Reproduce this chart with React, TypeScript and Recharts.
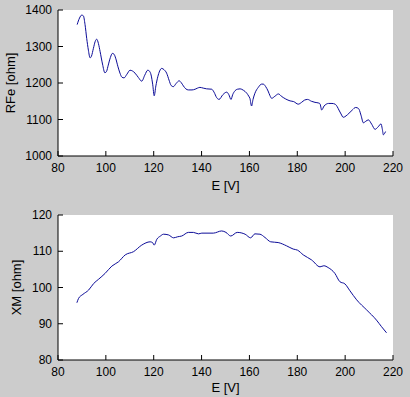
import React from 'react';
import { LineChart, Line, XAxis, YAxis, CartesianGrid } from 'recharts';

// E [V] / RFe [ohm] readings, top panel
const eTop = [
  88.0, 89.0, 89.9, 90.6, 91.3, 92.0, 92.7, 93.4, 94.0, 94.8, 95.5, 96.2, 96.9, 97.6, 98.6, 99.6,
  100.3, 101.0, 101.9, 102.7, 103.4, 104.1, 105.0, 105.9, 106.7, 107.6, 108.8, 110.1, 111.1, 112.2,
  113.6, 115.0, 116.3, 117.5, 118.3, 118.9, 119.6, 120.2, 120.9, 121.7, 122.5, 123.3, 124.4, 125.4,
  126.4, 127.3, 128.2, 129.4, 130.6, 131.5, 132.4, 133.4, 134.5, 136.0, 137.3, 138.3, 139.3, 140.7,
  142.1, 144.2, 145.2, 146.3, 147.3, 148.9, 150.5, 151.4, 152.3, 153.0, 154.0, 155.0, 156.1, 157.5,
  158.9, 159.7, 160.2, 160.9, 161.5, 162.3, 163.7, 165.1, 165.8, 166.8, 167.8, 168.6, 169.3, 170.7,
  172.1, 173.5, 175.2, 177.0, 178.5, 180.4, 181.8, 183.0, 184.3, 185.9, 187.4, 189.0, 189.5, 190.2,
  191.2, 192.1, 193.0, 194.5, 195.8, 196.7, 197.4, 198.3, 199.2, 200.4, 201.6, 203.0, 204.4, 205.1,
  205.8, 206.7, 207.6, 208.6, 209.7, 211.1, 212.5, 213.8, 215.0, 215.5, 216.0, 216.5, 216.9,
];
const rfe = [
  1360, 1378, 1386, 1384, 1360, 1322, 1290, 1269, 1274, 1295, 1313, 1320, 1308, 1286, 1252, 1228,
  1232, 1249, 1270, 1281, 1279, 1268, 1246, 1227, 1216, 1214, 1224, 1235, 1233, 1227,
  1215, 1205, 1222, 1235, 1232, 1222, 1195, 1165, 1192, 1217, 1233, 1240, 1236, 1227,
  1208, 1193, 1190, 1199, 1206, 1201, 1192, 1184, 1181, 1181, 1183, 1186, 1188, 1186,
  1184, 1183, 1175, 1160, 1155, 1168, 1175, 1168, 1155, 1168, 1179, 1183, 1184, 1180,
  1172, 1164, 1158, 1137, 1155, 1172, 1188, 1197, 1197, 1190, 1178, 1165, 1158, 1164,
  1170, 1163, 1156, 1151, 1149, 1142, 1147, 1153, 1155, 1150, 1147, 1145, 1143, 1126,
  1137, 1142, 1144, 1144, 1142, 1135, 1126, 1115, 1106, 1110, 1117, 1126, 1133, 1132,
  1128, 1110, 1091, 1095, 1099, 1087, 1073, 1080, 1088, 1075, 1058, 1062, 1067,
];

// E [V] / XM [ohm] readings, bottom panel
const eBottom = [
  87.9, 88.6, 90.4, 92.8, 94.9, 97.0, 99.7, 102.5, 105.3, 108.1, 111.6, 115.0, 118.5, 119.5, 120.2,
  121.3, 122.8, 124.1, 126.2, 128.3, 130.0, 131.7, 134.5, 136.6, 138.7, 140.1, 144.9, 148.4, 150.2,
  152.2, 154.9, 158.2, 160.5, 162.3, 164.4, 166.5, 168.9, 172.0, 175.5, 178.3, 180.1, 182.5, 186.0,
  189.5, 191.1, 192.9, 195.7, 197.8, 199.9, 202.0, 204.8, 209.0, 213.1, 215.2, 217.3,
];
const xm = [
  95.8, 97.0, 98.1, 99.3, 101.1, 102.3, 103.9, 105.9, 107.1, 109.0, 109.9, 111.7, 112.6, 112.4, 111.7,
  113.3, 114.2, 114.7, 114.5, 113.7, 114.0, 114.2, 115.2, 115.2, 114.8, 115.0, 115.0, 115.6, 115.2,
  114.2, 115.2, 114.7, 113.7, 114.8, 114.7, 113.8, 112.6, 112.4, 111.5, 110.6, 110.3, 109.0, 107.6,
  105.7, 106.0, 105.5, 103.9, 101.6, 101.0, 99.1, 96.6, 93.8, 91.0, 89.2, 87.5,
];

const eTicks = [80, 100, 120, 140, 160, 180, 200, 220];
const rfeTicks = [1000, 1100, 1200, 1300, 1400];
const xmTicks = [80, 90, 100, 110, 120];

const topData = eTop.map((e, i) => ({ e, v: rfe[i] }));
const bottomData = eBottom.map((e, i) => ({ e, v: xm[i] }));

const FONT = '"Liberation Sans", Arial, sans-serif';
const LINE = '#0c0c98';
const TL = 5;

const BottomTick = (p: any) => (
  <g>
    <line x1={p.x} y1={p.y} x2={p.x} y2={p.y - TL} stroke="#000" />
    <text x={p.x} y={p.y + 16} textAnchor="middle" fontSize={12} fontFamily={FONT} fill="#000">
      {p.payload.value}
    </text>
  </g>
);
const TopTick = (p: any) => <line x1={p.x} y1={p.y} x2={p.x} y2={p.y + TL} stroke="#000" />;
const LeftTick = (p: any) => (
  <g>
    <line x1={p.x} y1={p.y} x2={p.x + TL} y2={p.y} stroke="#000" />
    <text x={p.x - 6} y={p.y + 4} textAnchor="end" fontSize={12} fontFamily={FONT} fill="#000">
      {p.payload.value}
    </text>
  </g>
);
const RightTick = (p: any) => <line x1={p.x} y1={p.y} x2={p.x - TL} y2={p.y} stroke="#000" />;

type PanelProps = {
  data: { e: number; v: number }[];
  height: number;
  margin: { top: number; right: number; bottom: number; left: number };
  yDomain: [number, number];
  yTicks: number[];
  yLabel: string;
  yLabelOffset: number;
  xAxisHeight: number;
  xLabelOffset: number;
};

const Panel = ({ data, height, margin, yDomain, yTicks, yLabel, yLabelOffset, xAxisHeight, xLabelOffset }: PanelProps) => (
  <LineChart width={410} height={height} data={data} margin={margin}>
    <CartesianGrid fill="#ffffff" stroke="none" />
    <XAxis
      type="number"
      dataKey="e"
      domain={[80, 220]}
      ticks={eTicks}
      interval={0}
      tickSize={0}
      tickMargin={0}
      height={xAxisHeight}
      axisLine={{ stroke: '#000' }}
      tick={BottomTick}
      label={{ value: 'E [V]', position: 'insideBottom', offset: xLabelOffset, fontSize: 13, fontFamily: FONT, fill: '#000' }}
    />
    <XAxis
      xAxisId="top"
      orientation="top"
      type="number"
      domain={[80, 220]}
      ticks={eTicks}
      interval={0}
      tickSize={0}
      tickMargin={0}
      height={0}
      axisLine={{ stroke: '#000' }}
      tick={TopTick}
    />
    <YAxis
      type="number"
      domain={yDomain}
      ticks={yTicks}
      interval={0}
      tickSize={0}
      tickMargin={0}
      width={58}
      axisLine={{ stroke: '#000' }}
      tick={LeftTick}
      label={{
        value: yLabel,
        angle: -90,
        position: 'insideLeft',
        offset: yLabelOffset,
        fontSize: 13,
        fontFamily: FONT,
        fill: '#000',
        style: { textAnchor: 'middle' },
      }}
    />
    <YAxis
      yAxisId="right"
      orientation="right"
      type="number"
      domain={yDomain}
      ticks={yTicks}
      interval={0}
      tickSize={0}
      tickMargin={0}
      width={0}
      axisLine={{ stroke: '#000' }}
      tick={RightTick}
    />
    <Line type="monotone" dataKey="v" stroke={LINE} strokeWidth={1} dot={false} isAnimationActive={false} />
  </LineChart>
);

export default function App() {
  return (
    <div style={{ position: 'absolute', left: 0, top: 0, width: 410, height: 397, background: '#cccccc', overflow: 'hidden' }}>
      <Panel
        data={topData}
        height={200}
        margin={{ top: 10, right: 17, bottom: 4, left: 0 }}
        yDomain={[1000, 1400]}
        yTicks={rfeTicks}
        yLabel="RFe [ohm]"
        yLabelOffset={10}
        xAxisHeight={40}
        xLabelOffset={6}
      />
      <Panel
        data={bottomData}
        height={197}
        margin={{ top: 15, right: 17, bottom: 1, left: 0 }}
        yDomain={[80, 120]}
        yTicks={xmTicks}
        yLabel="XM [ohm]"
        yLabelOffset={16}
        xAxisHeight={36}
        xLabelOffset={4}
      />
    </div>
  );
}
